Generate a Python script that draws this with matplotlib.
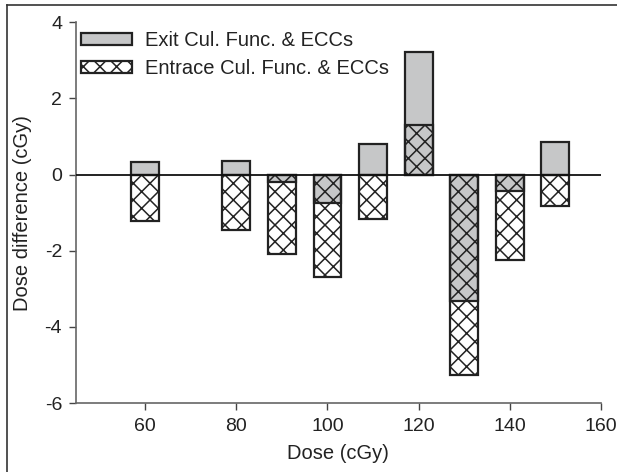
import matplotlib
matplotlib.use("Agg")
import matplotlib.pyplot as plt
from matplotlib.lines import Line2D

# --- Data ---
dose = [60, 80, 90, 100, 110, 120, 130, 140, 150]
exit_diff = [0.33, 0.36, -0.20, -0.75, 0.79, 3.22, -3.32, -0.44, 0.86]
entrance_diff = [-1.22, -1.46, -2.09, -2.70, -1.17, 1.30, -5.25, -2.25, -0.82]
exit_label = "Exit Cul. Func. & ECCs"
entrance_label = "Entrace Cul. Func. & ECCs"

plt.rcParams['font.family'] = ['Liberation Sans', 'DejaVu Sans']
plt.rcParams['axes.unicode_minus'] = False
plt.rcParams['hatch.linewidth'] = 1.1

fig = plt.figure(figsize=(6.17, 4.72), dpi=100)
ax = fig.add_axes([0.123, 0.146, 0.851, 0.807])

BAR_W = 6.1
ax.bar(dose, exit_diff, width=BAR_W, color='#c6c7c8', edgecolor='#222222',
       linewidth=1.6, label=exit_label, zorder=2)
ax.bar(dose, entrance_diff, width=BAR_W, facecolor='none', edgecolor='#222222',
       hatch='xx', linewidth=1.6, label=entrance_label, zorder=3)
ax.axhline(0, color='#111111', lw=1.3, zorder=4)

ax.set_xlim(44.8, 160)
ax.set_ylim(-6, 4)
ax.set_xticks([60, 80, 100, 120, 140, 160])
ax.set_yticks([-6, -4, -2, 0, 2, 4])

for s in ['top', 'right']:
    ax.spines[s].set_visible(False)
for s in ['left', 'bottom']:
    ax.spines[s].set_color('#666666')
    ax.spines[s].set_linewidth(1.2)
ax.tick_params(direction='out', length=5, width=1.0, color='#444444',
               labelsize=14, labelcolor='#222222')
ax.tick_params(axis='y', pad=5)
ax.tick_params(axis='x', pad=6)

ax.set_xlabel("Dose (cGy)", fontsize=14.5, color='#222222', labelpad=6)
ax.set_ylabel("Dose difference (cGy)", fontsize=14.5, color='#222222', labelpad=9)

leg = ax.legend(loc='upper left', bbox_to_anchor=(-0.025, 1.025), frameon=False,
                fontsize=14.5, handlelength=2.55, handleheight=0.55,
                handletextpad=0.65, labelspacing=0.45)
for t in leg.get_texts():
    t.set_color('#222222')

# outer figure border (left and top only)
fig.add_artist(Line2D([7 / 617, 7 / 617], [0, 1 - 5 / 472], transform=fig.transFigure,
                      color='#333333', lw=1.2))
fig.add_artist(Line2D([7 / 617, 1], [1 - 5 / 472, 1 - 5 / 472], transform=fig.transFigure,
                      color='#333333', lw=1.2))

fig.savefig("out.png", dpi=100)
